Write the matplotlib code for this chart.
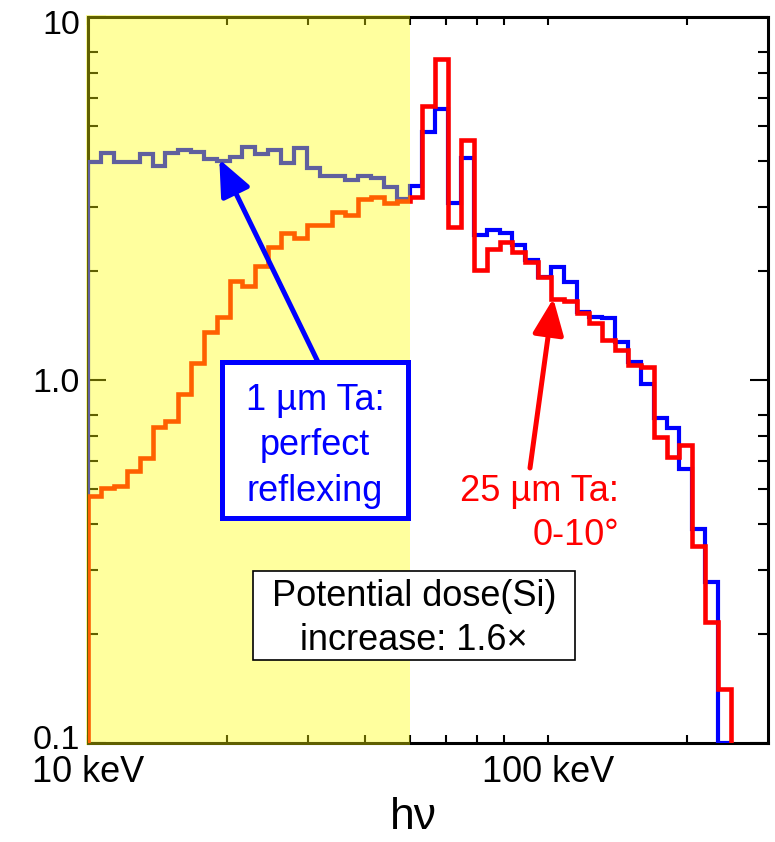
import matplotlib
matplotlib.use("Agg")
import matplotlib.pyplot as plt
from matplotlib.patches import Rectangle, FancyArrowPatch
from matplotlib.ticker import NullFormatter
from matplotlib.transforms import ScaledTranslation

plt.rcParams['font.family'] = ['Liberation Sans', 'DejaVu Sans']

# ---------------- data ----------------
# photon-energy bin edges (keV)
bin_edges_kev = [10.00, 10.66, 11.37, 12.13, 12.93, 13.79, 14.71, 15.68, 16.72, 17.84,
                 19.02, 20.28, 21.63, 23.07, 24.60, 26.23, 27.97, 29.83, 31.81, 33.93,
                 36.18, 38.59, 41.15, 43.88, 46.80, 50.00, 53.22, 56.76, 60.53, 64.55,
                 68.84, 73.41, 78.29, 83.49, 89.03, 94.95, 101.25, 107.98, 115.15, 122.80,
                 130.95, 139.65, 148.93, 158.82, 169.37, 180.62, 192.62, 205.41, 219.06,
                 233.61, 249.12]

# 1 um Ta : perfect reflexing
thin_ta = [3.98, 4.21, 3.98, 3.98, 4.19, 3.89, 4.21, 4.30, 4.26, 4.06,
           4.02, 4.12, 4.38, 4.19, 4.30, 3.95, 4.35, 3.83, 3.65, 3.65,
           3.56, 3.65, 3.61, 3.41, 3.15, 3.43, 4.83, 5.58, 3.08, 4.08,
           2.51, 2.59, 2.545, 2.355, 2.14, 1.917, 2.05, 1.866, 1.543, 1.494,
           1.479, 1.275, 1.119, 0.977, 0.784, 0.736, 0.568, 0.388, 0.278, 0.10]

# 25 um Ta : 0-10 deg
thick_ta = [0.479, 0.503, 0.511, 0.5625, 0.608, 0.743, 0.771, 0.915, 1.112, 1.353,
            1.488, 1.878, 1.81, 2.06, 2.33, 2.545, 2.457, 2.67, 2.67, 2.91,
            2.85, 3.15, 3.20, 3.08, 3.12, 3.20, 5.69, 7.66, 2.645, 4.58,
            2.01, 2.29, 2.395, 2.257, 2.118, 1.923, 1.672, 1.651, 1.533, 1.438,
            1.289, 1.21, 1.10, 1.088, 0.698, 0.615, 0.662, 0.349, 0.215, 0.141]

x_major = [10, 100]
x_major_labels = ["10 keV", "100 keV"]
x_minor = [20, 30, 40, 50, 60, 70, 80, 200]
y_major = [0.1, 1.0, 10]
y_major_labels = ["0.1", "1.0", "10"]
y_minor = [0.2, 0.3, 0.4, 0.5, 0.6, 0.7, 0.8, 2, 3, 4, 5, 6, 7, 8]
band_kev = (10, 50)

# ---------------- figure ----------------
W, H = 775, 842
fig = plt.figure(figsize=(W / 100, H / 100), dpi=100)
ax = fig.add_axes([88.3 / W, 1 - 743 / H, (768 - 88.3) / W, (743 - 17) / H])
ax.set_xscale('log')
ax.set_yscale('log')


def fp(x, y):
    return (x / W, 1 - y / H)


ax.stairs(thin_ta, bin_edges_kev, baseline=0.01, color='#0000ff', lw=3.0, zorder=2.8)
ax.stairs(thick_ta, bin_edges_kev, baseline=0.01, color='#ff0000', lw=3.3, zorder=2.9)

# semi-transparent yellow band drawn on top of lines and spines
ax.add_patch(Rectangle((9.9, 0.0985), band_kev[1] - 9.9, 10.15 - 0.0985,
                       transform=ax.transData, facecolor=(1, 1, 0), alpha=0.38,
                       edgecolor='none', zorder=5, clip_on=False))

ax.set_xlim(10, 300)
ax.set_ylim(0.1, 10)

ax.set_xticks(x_major, labels=x_major_labels)
ax.set_xticks(x_minor, minor=True)
ax.set_yticks(y_major, labels=y_major_labels)
ax.set_yticks(y_minor, minor=True)
ax.xaxis.set_minor_formatter(NullFormatter())
ax.yaxis.set_minor_formatter(NullFormatter())

ax.tick_params(which='both', direction='in', top=True, right=True, width=1.5,
               color='black')
ax.tick_params(axis='x', which='both', length=6, pad=9, labelsize=26)
ax.tick_params(axis='y', which='major', length=13, pad=6, labelsize=24.5)
ax.tick_params(axis='y', which='minor', length=7)
for s in ax.spines.values():
    s.set_linewidth(2.2)

# nudge the outer y tick labels inwards like the reference
for lab in ax.get_yticklabels():
    t = lab.get_text()
    if t == "10":
        lab.set_transform(lab.get_transform() + ScaledTranslation(0, -5 / 100, fig.dpi_scale_trans))
    elif t == "0.1":
        lab.set_transform(lab.get_transform() + ScaledTranslation(0, 6 / 100, fig.dpi_scale_trans))

ax.set_xlabel("h\u03bd", fontsize=32)
ax.xaxis.set_label_coords(0.478, -0.074)

# ---------------- annotations ----------------
# blue box
x0, y0, x1, y1 = 222, 362, 408, 518
fig.add_artist(Rectangle(fp(x0, y1), (x1 - x0) / W, (y1 - y0) / H, transform=fig.transFigure,
                         facecolor='white', edgecolor='#0000ff', lw=3.6, zorder=6))
for txt, yb in [("1 \u00b5m Ta:", 410), ("perfect", 455), ("reflexing", 501)]:
    fig.text(315 / W, 1 - yb / H, txt, ha='center', va='baseline', color='#0000ff',
             fontsize=26, zorder=7)

fig.add_artist(FancyArrowPatch(posA=fp(318, 362), posB=fp(219.3, 159.3),
                               transform=fig.transFigure,
                               arrowstyle='-|>,head_length=22,head_width=9.5',
                               mutation_scale=1, lw=3.6, color='#0000ff',
                               shrinkA=0, shrinkB=0, zorder=6))

# red text and arrow
for txt, yb in [("25 \u00b5m Ta:", 501), ("0-10\u00b0", 545)]:
    fig.text(619 / W, 1 - yb / H, txt, ha='right', va='baseline', color='#ff0000',
             fontsize=26, zorder=7)
fig.add_artist(FancyArrowPatch(posA=fp(530, 468), posB=fp(553.3, 298.5),
                               transform=fig.transFigure,
                               arrowstyle='-|>,head_length=22,head_width=9.5',
                               mutation_scale=1, lw=3.6, color='#ff0000',
                               shrinkA=0, shrinkB=0, zorder=6))

# black box
x0, y0, x1, y1 = 253, 571, 575, 660
fig.add_artist(Rectangle(fp(x0, y1), (x1 - x0) / W, (y1 - y0) / H, transform=fig.transFigure,
                         facecolor='white', edgecolor='black', lw=1.2, zorder=6))
for txt, yb in [("Potential dose(Si)", 606.5), ("increase: 1.6\u00d7", 650.5)]:
    fig.text(414 / W, 1 - yb / H, txt, ha='center', va='baseline', color='black',
             fontsize=26, zorder=7)

fig.savefig("out.png", dpi=100)
